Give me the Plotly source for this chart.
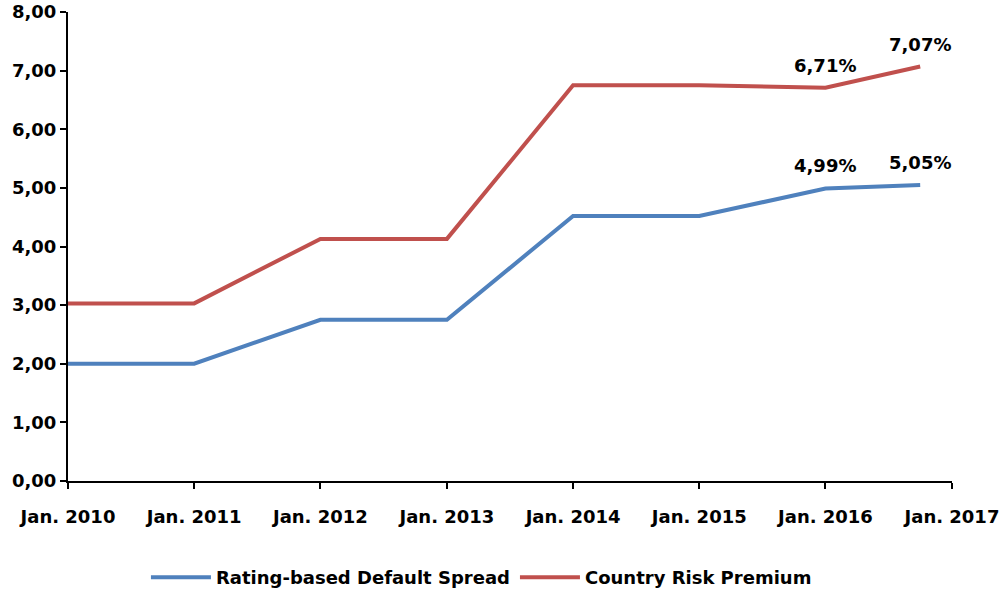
import plotly.graph_objects as go

dates = ["2010-01-01", "2011-01-01", "2012-01-01", "2013-01-01",
         "2014-01-01", "2015-01-01", "2016-01-01", "2016-10-01"]
default_spread = [2.00, 2.00, 2.75, 2.75, 4.52, 4.52, 4.99, 5.05]
country_risk = [3.03, 3.03, 4.13, 4.13, 6.75, 6.75, 6.71, 7.07]

tick_vals = ["2010-01-01", "2011-01-01", "2012-01-01", "2013-01-01",
             "2014-01-01", "2015-01-01", "2016-01-01", "2017-01-01"]
tick_text = ["Jan. 2010", "Jan. 2011", "Jan. 2012", "Jan. 2013",
             "Jan. 2014", "Jan. 2015", "Jan. 2016", "Jan. 2017"]
y_ticks = [0, 1, 2, 3, 4, 5, 6, 7, 8]
y_text = ["0,00", "1,00", "2,00", "3,00", "4,00", "5,00", "6,00", "7,00", "8,00"]

# labelled points: (series values, index, text)
labels = [
    (country_risk, 6, "6,71%"),
    (country_risk, 7, "7,07%"),
    (default_spread, 6, "4,99%"),
    (default_spread, 7, "5,05%"),
]

FONT = "DejaVu Sans"
SIZE = 18
BLUE = "#4F81BD"
RED = "#C0504D"
tf = dict(family=FONT, size=SIZE, color="#000000", weight="bold")

fig = go.Figure()
fig.add_trace(go.Scatter(x=dates, y=default_spread, mode="lines",
                         name="Rating-based Default Spread",
                         line=dict(color=BLUE, width=4)))
fig.add_trace(go.Scatter(x=dates, y=country_risk, mode="lines",
                         name="Country Risk Premium",
                         line=dict(color=RED, width=4)))

for series, i, txt in labels:
    fig.add_annotation(x=dates[i], y=series[i], text=txt, showarrow=False,
                       yanchor="bottom", yshift=10, font=tf)

fig.update_layout(
    width=1003, height=593,
    margin=dict(l=68, r=51, t=12, b=112),
    paper_bgcolor="white", plot_bgcolor="white",
    showlegend=True,
    legend=dict(orientation="h", xref="container", yref="container",
                x=0.48, xanchor="center", y=0.026, yanchor="middle",
                font=tf, itemwidth=60),
    font=tf,
)
fig.update_xaxes(type="date", range=["2010-01-01", "2017-01-01"],
                 tickvals=tick_vals, ticktext=tick_text,
                 showline=True, linecolor="#000000", linewidth=2,
                 ticks="outside", ticklen=6, tickwidth=2, tickcolor="#000000",
                 ticklabelstandoff=12, ticklabeloverflow="allow", automargin=False,
                 showgrid=False, zeroline=False, tickfont=tf)
fig.update_yaxes(range=[0, 8.0005], tickvals=y_ticks, ticktext=y_text,
                 showline=True, linecolor="#000000", linewidth=2,
                 ticks="outside", ticklen=6, tickwidth=2, tickcolor="#000000",
                 ticklabeloverflow="allow", automargin=False,
                 showgrid=False, zeroline=False, tickfont=tf)

fig.write_html("out.html")
